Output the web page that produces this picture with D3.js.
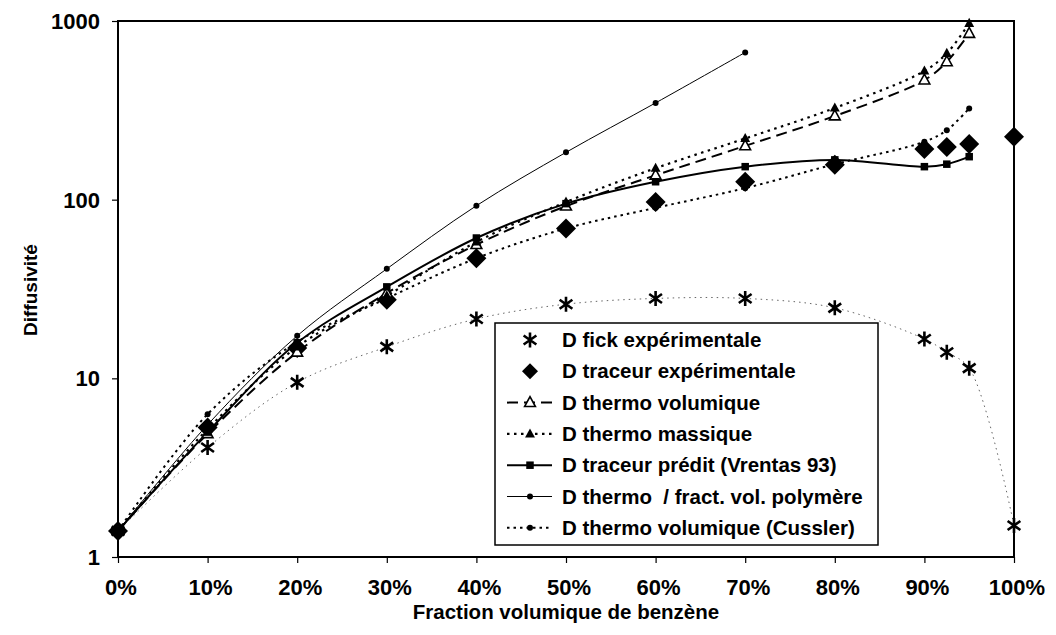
<!DOCTYPE html>
<html><head><meta charset="utf-8">
<script src="https://cdnjs.cloudflare.com/ajax/libs/d3/7.8.5/d3.min.js"></script>
<style>
html,body{margin:0;padding:0;background:#fff;}
text{font-family:"Liberation Sans",Arial,sans-serif;font-weight:bold;fill:#000;}
</style></head>
<body><svg id="chart" width="1056" height="635"></svg>
<script>
// ---- data ----
const xTickLabels = ["0%","10%","20%","30%","40%","50%","60%","70%","80%","90%","100%"];
const yTickValues = [1,10,100,1000];
const xFull = [0,10,20,30,40,50,60,70,80,90,92.5,95,100];
const x95 = [0,10,20,30,40,50,60,70,80,90,92.5,95];
const x70 = [0,10,20,30,40,50,60,70];
const fickExp = [1.4,4.1,9.5,15,21.5,26,28,28,24.8,16.6,14,11.4,1.5];
const traceurExp = [1.4,5.3,14.8,27.5,47,69,97,126,157,192,197,205,225];
const thermoVol = [1.4,4.9,14,30,56,92,137,200,294,467,591,852];
const thermoMass = [1.4,5.2,15,29,58,97,150,220,326,525,659,970];
const traceurVrentas = [1.4,5.0,15.8,32.5,61,95,126,153,167,153,158,174];
const thermoPolymer = [1.4,5.5,17.3,41,92.5,184,348,667];
const thermoCussler = [1.4,6.3,16,28,47,69,90,116,158,211,245,324];
const legendLabels = ["D fick expérimentale","D traceur expérimentale","D thermo volumique","D thermo massique",
  "D traceur prédit (Vrentas 93)","D thermo  / fract. vol. polymère","D thermo volumique (Cussler)"];

// ---- layout ----
const svg = d3.select("#chart");
const L=118, R=1014, T=21, B=557;
const x = d3.scaleLinear().domain([0,100]).range([L,R]);
const y = d3.scaleLog().domain([1,1000]).range([B,T]);

// axes
const xAxis = d3.axisBottom(x).tickValues(d3.range(0,101,10)).tickSize(6).tickFormat(""); 
const gx = svg.append("g").attr("transform",`translate(0,${B})`).call(xAxis);
gx.select(".domain").remove();
gx.selectAll("line").attr("stroke","#000").attr("stroke-width",1.2);
svg.append("g").selectAll("text").data(xTickLabels).join("text")
  .attr("x",(d,i)=>x(i*10)+3).attr("y",595).attr("text-anchor","middle")
  .style("font-size","22px").text(d=>d);

const yAxis = d3.axisLeft(y).tickValues(yTickValues).tickSize(6).tickFormat("");
const gy = svg.append("g").attr("transform",`translate(${L},0)`).call(yAxis);
gy.select(".domain").remove();
gy.selectAll("line").attr("stroke","#000").attr("stroke-width",1.2);
svg.append("g").selectAll("text").data(yTickValues).join("text")
  .attr("x",100).attr("y",d=>y(d)+8).attr("text-anchor","end")
  .style("font-size","22px").text(d=>d);

// plot border
svg.append("rect").attr("x",L).attr("y",T).attr("width",R-L).attr("height",B-T)
  .attr("fill","none").attr("stroke","#000").attr("stroke-width",2);

// titles
svg.append("text").attr("x",(L+R)/2).attr("y",619).attr("text-anchor","middle")
  .style("font-size","20.5px").text("Fraction volumique de benzène");
svg.append("text").attr("transform","translate(37,290) rotate(-90)").attr("text-anchor","middle")
  .style("font-size","19px").text("Diffusivité");

// ---- series ----
const line = d3.line().x(d=>x(d[0])).y(d=>y(d[1])).curve(d3.curveCatmullRom.alpha(0.5));
const zip = (xs,vs)=>xs.map((v,i)=>[v,vs[i]]);

const series = [
  {name:"fick", data:zip(xFull,fickExp), stroke:"#666", width:1, dash:"1.5,4", marker:"star", line:true},
  {name:"traceur", data:zip(xFull,traceurExp), marker:"diamond", line:false},
  {name:"vol", data:zip(x95,thermoVol), stroke:"#000", width:2, dash:"11,6", marker:"openTri", line:true},
  {name:"mass", data:zip(x95,thermoMass), stroke:"#000", width:2.2, dash:"2.5,4.5", marker:"tri", line:true},
  {name:"vrentas", data:zip(x95,traceurVrentas), stroke:"#000", width:2, dash:null, marker:"square", line:true},
  {name:"poly", data:zip(x70,thermoPolymer), stroke:"#000", width:1, dash:null, marker:"dot", line:true},
  {name:"cussler", data:zip(x95,thermoCussler), stroke:"#000", width:2, dash:"2.5,4", marker:"dot", line:true}
];

function drawMarker(g, type, cx, cy, legend){
  if(type==="star"){
    const r=7.5, a=r*0.85, b=r*0.6;
    g.append("path").attr("d",`M${cx},${cy-r}L${cx},${cy+r}M${cx-a},${cy-b}L${cx+a},${cy+b}M${cx-a},${cy+b}L${cx+a},${cy-b}`)
      .attr("stroke","#000").attr("stroke-width",2.6).attr("fill","none");
  } else if(type==="diamond"){
    const r= legend?8:10;
    g.append("path").attr("d",`M${cx},${cy-r}L${cx+r},${cy}L${cx},${cy+r}L${cx-r},${cy}Z`).attr("fill","#000");
  } else if(type==="openTri"){
    const r=6;
    g.append("path").attr("d",`M${cx},${cy-r}L${cx+r*0.9},${cy+r*0.65}L${cx-r*0.9},${cy+r*0.65}Z`)
      .attr("fill","#fff").attr("stroke","#000").attr("stroke-width",1.6);
  } else if(type==="tri"){
    const r=5.5;
    g.append("path").attr("d",`M${cx},${cy-r}L${cx+r*0.9},${cy+r*0.65}L${cx-r*0.9},${cy+r*0.65}Z`).attr("fill","#000");
  } else if(type==="square"){
    const s=7.5;
    g.append("rect").attr("x",cx-s/2).attr("y",cy-s/2).attr("width",s).attr("height",s).attr("fill","#000");
  } else if(type==="dot"){
    g.append("circle").attr("cx",cx).attr("cy",cy).attr("r",3).attr("fill","#000");
  }
}

const gLines = svg.append("g");
series.forEach(s=>{
  if(!s.line) return;
  gLines.append("path").datum(s.data).attr("d",line).attr("fill","none")
    .attr("stroke",s.stroke).attr("stroke-width",s.width).attr("stroke-dasharray",s.dash);
});
const gMarks = svg.append("g");
series.forEach(s=>{
  s.data.forEach(d=>drawMarker(gMarks,s.marker,x(d[0]),y(d[1]),false));
});

// ---- legend ----
const lg = svg.append("g");
lg.append("rect").attr("x",495).attr("y",323).attr("width",383).attr("height",222)
  .attr("fill","#fff").attr("stroke","#000").attr("stroke-width",1.5);
series.forEach((s,i)=>{
  const cy = 340 + i*31.3;
  if(s.line && s.name!=="fick"){
    lg.append("line").attr("x1",507).attr("x2",552).attr("y1",cy).attr("y2",cy)
      .attr("stroke",s.stroke).attr("stroke-width",s.width).attr("stroke-dasharray",s.dash);
  }
  drawMarker(lg,s.marker,530,cy,true);
  lg.append("text").attr("x",562).attr("y",cy+7).attr("xml:space","preserve").style("font-size","20.5px")
    .style("white-space","pre").text(legendLabels[i]);
});
</script></body></html>
